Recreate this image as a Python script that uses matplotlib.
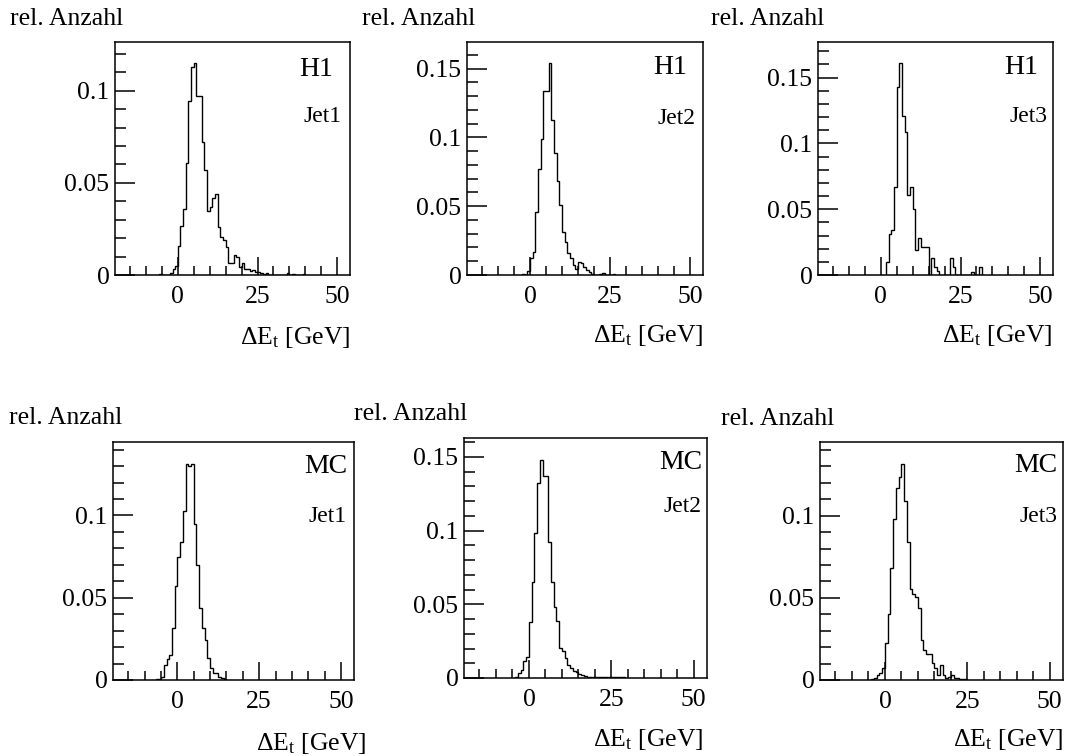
import numpy as np
import matplotlib
matplotlib.use("Agg")
import matplotlib.pyplot as plt
from matplotlib.ticker import MultipleLocator, FuncFormatter

plt.rcParams['font.family'] = ['Liberation Serif', 'DejaVu Serif']
plt.rcParams['mathtext.fontset'] = 'custom'
plt.rcParams['mathtext.rm'] = 'Liberation Serif'
plt.rcParams['mathtext.it'] = 'Liberation Serif:italic'

# ---------------- data ----------------
bin_width = 5.0 / 6.0   # GeV

h1_jet1_start = -7
h1_jet1 = [0.0008, 0, 0, 0, 0.001, 0.003, 0.005, 0.0155, 0.0265, 0.036,
           0.061, 0.0945, 0.113, 0.115, 0.097, 0.097, 0.072, 0.057, 0.035, 0.037,
           0.042, 0.044, 0.026, 0.0205, 0.019, 0.015, 0.0064, 0.0064, 0.011, 0.010,
           0.0046, 0.0066, 0.003, 0.0035, 0.002, 0.0025, 0.0015, 0.0015, 0.001, 0.0005,
           0.001, 0, 0, 0, 0, 0, 0, 0, 0.001, 0, 0.0008, 0, 0, 0, 0.0008]

h1_jet2_start = -3
h1_jet2 = [0.001, 0.0, 0.003, 0.0123, 0.0167, 0.0456, 0.077, 0.099, 0.1336, 0.1336,
           0.154, 0.113, 0.0887, 0.0686, 0.051, 0.031, 0.024, 0.016, 0.012, 0.0074,
           0.0047, 0.0098, 0.0085, 0.0055, 0.0035, 0.002, 0.001, 0, 0, 0.001,
           0.0015, 0, 0, 0, 0.001]

h1_jet3_start = 2
h1_jet3 = [0.0097, 0.031, 0.034, 0.067, 0.143, 0.161, 0.121, 0.109, 0.061, 0.067,
           0.050, 0.019, 0.028, 0.021, 0.021, 0.021, 0, 0.0128, 0.0064, 0.003,
           0, 0, 0, 0, 0.0128, 0.0064,
           0, 0, 0, 0, 0, 0,
           0.0025, 0, 0, 0.0064]

mc_jet1_start = -8
mc_jet1 = [0.0006, 0.0006, 0.002, 0.009, 0.0128, 0.0152, 0.0315, 0.057, 0.075, 0.084,
           0.1026, 0.1315, 0.130, 0.1315, 0.095, 0.070, 0.044, 0.0315, 0.0244, 0.0132,
           0.0071, 0.004, 0.0045, 0.002, 0.001, 0.0005]

mc_jet2_start = -5
mc_jet2 = [0.001, 0.0034, 0.0057, 0.0114, 0.0144, 0.0378, 0.065, 0.0985, 0.132, 0.148,
           0.137, 0.137, 0.092, 0.065, 0.048, 0.039, 0.0206, 0.0183, 0.0137, 0.009,
           0.0069, 0.005, 0.004, 0.003, 0.002, 0.0012, 0.0008, 0.0008, 0.0007, 0.0007,
           0.0007, 0.0006, 0.0006, 0.0006, 0.0005, 0.0005, 0.0005, 0.0005, 0.0004, 0.0004]

mc_jet3_start = -5
mc_jet3 = [0.0007, 0.0014, 0.003, 0.004, 0.0072, 0.0225, 0.040, 0.068, 0.098, 0.117,
           0.1235, 0.1317, 0.109, 0.0837, 0.0551, 0.0525, 0.0504, 0.0439, 0.0245, 0.0184,
           0.0157, 0.0157, 0.0102, 0.0072, 0.003, 0.009, 0.003, 0.0014, 0.002, 0.003,
           0.0014, 0.001, 0.0005, 0.0005, 0.0005]

samples = ["H1", "H1", "H1", "MC", "MC", "MC"]
jets = ["Jet1", "Jet2", "Jet3", "Jet1", "Jet2", "Jet3"]
hists = [h1_jet1, h1_jet2, h1_jet3, mc_jet1, mc_jet2, mc_jet3]
starts = [h1_jet1_start, h1_jet2_start, h1_jet3_start,
          mc_jet1_start, mc_jet2_start, mc_jet3_start]
ylabel_text = "rel. Anzahl"
xlabel_text = r"ΔE$_{\rm t}$ [GeV]"

# ---------------- layout (pixels) ----------------
W, H = 1072, 756
axes_px = [(115, 42, 350, 275), (467, 42, 703, 275), (818, 42, 1053, 275),
           (113, 442, 354, 680), (464, 438, 707, 678), (820, 442, 1063, 680)]
ylab_px = [(10, 19), (362, 19), (711, 19), (9, 418), (354, 414), (721, 419)]
samp_px = [(333, 70), (687, 68), (1038, 68), (347, 467), (702, 462), (1057, 466)]
jet_px = [(342, 116), (695, 118), (1047, 117), (347, 517), (702, 507), (1057, 517)]
xlab_px = [(350, 337), (703, 335), (1052, 335), (366, 744), (703, 740), (1063, 740)]

fig = plt.figure(figsize=(W / 100, H / 100), dpi=100)

def fx(x):
    return x / W

def fy(y):
    return 1 - y / H

fmt = FuncFormatter(lambda v, p: "%g" % round(v, 4))
FS = 18.5

for i in range(6):
    l, t, r, b = axes_px[i]
    ax = fig.add_axes([fx(l), fy(b), (r - l) / W, (b - t) / H])
    vals = np.array(hists[i], dtype=float)
    edges = (starts[i] + np.arange(len(vals) + 1)) * bin_width
    ax.stairs(vals, edges, color="black", lw=1.0, baseline=0)
    ax.set_xlim(-19.7, 54)
    ax.set_ylim(0, 1.1 * vals.max())
    ax.xaxis.set_major_locator(MultipleLocator(25))
    ax.xaxis.set_minor_locator(MultipleLocator(5))
    ax.yaxis.set_major_locator(MultipleLocator(0.05))
    ax.yaxis.set_minor_locator(MultipleLocator(0.01))
    ax.xaxis.set_major_formatter(fmt)
    ax.yaxis.set_major_formatter(fmt)
    ax.tick_params(which="both", direction="in", top=False, right=False,
                   width=1.1, color="black", labelsize=FS)
    ax.tick_params(axis="x", which="major", length=13, pad=8)
    ax.tick_params(axis="x", which="minor", length=6.5)
    ax.tick_params(axis="y", which="major", length=14.4, pad=4)
    ax.tick_params(axis="y", which="minor", length=7.9)
    for s in ax.spines.values():
        s.set_linewidth(1.1)
        s.set_color("black")

    fig.text(fx(ylab_px[i][0]), fy(ylab_px[i][1]), ylabel_text,
             ha="left", va="center", fontsize=FS)
    fig.text(fx(samp_px[i][0]), fy(samp_px[i][1]), samples[i],
             ha="right", va="center", fontsize=20)
    fig.text(fx(jet_px[i][0]), fy(jet_px[i][1]), jets[i],
             ha="right", va="center", fontsize=17)
    fig.text(fx(xlab_px[i][0]), fy(xlab_px[i][1]), xlabel_text,
             ha="right", va="center", fontsize=FS)

fig.savefig("out.png", dpi=100, facecolor="white")
